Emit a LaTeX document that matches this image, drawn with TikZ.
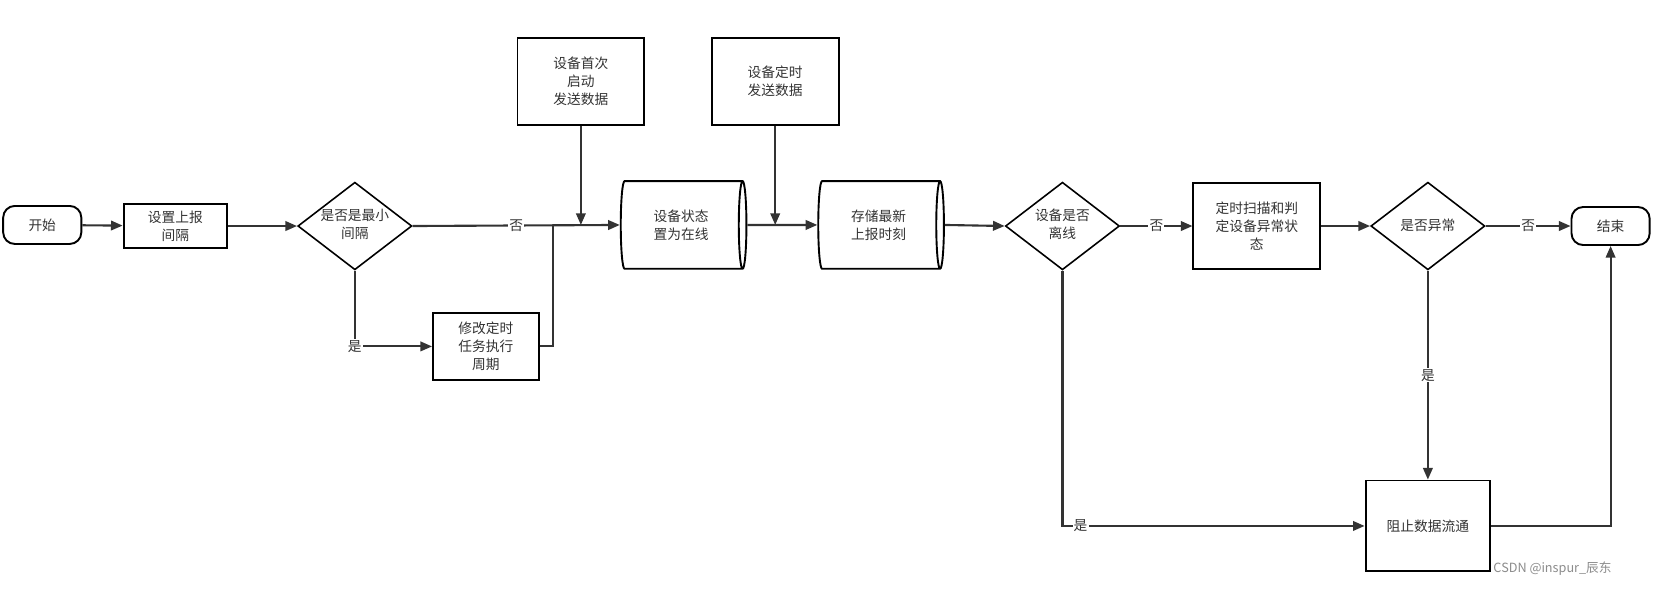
\documentclass[tikz,border=0pt]{standalone}
\usepackage{fontspec}
\setmainfont{Noto Sans CJK SC}
\usetikzlibrary{shapes.geometric,arrows.meta}
\begin{document}
\begin{tikzpicture}[x=1pt,y=-1pt,
  every node/.style={font=\fontsize{13}{17}\selectfont, text=black!80, align=center, inner sep=0pt},
  box/.style={draw, line width=1.8pt, minimum width=#1, rectangle},
  term/.style={draw, line width=1.8pt, rounded corners=11pt, minimum width=#1, minimum height=36},
  dia/.style={draw, line width=1.5pt, diamond, minimum width=108, minimum height=83, aspect=1.3},
  cyl/.style={draw, line width=1.8pt, cylinder, minimum width=83, minimum height=119, aspect=0.25},
  ar/.style={draw=black!80, line width=2pt, -{Triangle[length=11pt,width=9pt]}},
  ln/.style={draw=black!80, line width=2pt},
  lbl/.style={fill=white, inner sep=1pt}]
\useasboundingbox (0,0) rectangle (1568,558);
\fill[white] (0,0) rectangle (1568,558);
\node[term=74] (start) at (40,213) {开始};
\node[box=98, minimum height=42] (set) at (166,214) {设置上报\\间隔};
\node[dia] (d1) at (336,214) {};
\node at (336,212) {是否是最小\\间隔};
\node[box=100, minimum height=64] (mod) at (460,328) {修改定时\\任务执行\\周期};
\node[box=120, minimum height=82] (first) at (550,77) {设备首次\\启动\\发送数据};
\node[cyl] (c1) at (645,213) {设备状态\\置为在线};
\node[box=120, minimum height=82] (timer) at (734,77) {设备定时\\发送数据};
\node[cyl] (c2) at (832,213) {存储最新\\上报时刻};
\node[dia] (d2) at (1006,214) {};
\node at (1006,212) {设备是否\\离线};
\node[box=120, minimum height=82] (scan) at (1190,214) {定时扫描和判\\定设备异常状\\态};
\node[dia] (d3) at (1352,214) {};
\node at (1352,213) {是否异常};
\node[term=74] (end) at (1525,214) {结束};
\node[box=118, minimum height=86] (stop) at (1352,498) {阻止数据流通};
\node[font=\fontsize{12}{14}\selectfont, text=black!45] (wm) at (1470,538) {CSDN @inspur\_辰东};
\coordinate (j1) at (524,213);
\coordinate (j2) at (550,213);
\coordinate (j3) at (734,213);
\draw[ar] (start) -- (set);
\draw[ar] (set) -- (d1);
\draw[ar] (d1.east) -- node[lbl, pos=0.5] {否} (c1.west);
\draw[ar] (d1.south) |- node[lbl, pos=0.5] {是} (mod.west);
\draw[ln] (mod.east) -| (j1);
\draw[ar] (first.south) -- (j2);
\draw[ar] (c1.east) -- (c2.west);
\draw[ar] (timer.south) -- (j3);
\draw[ar] (c2.east) -- (d2.west);
\draw[ar] (d2.east) -- node[lbl] {否} (scan.west);
\draw[ar] (scan) -- (d3);
\draw[ar] (d3.east) -- node[lbl] {否} (end.west);
\draw[ar] (d3.south) -- node[lbl] {是} (stop.north);
\draw[ar] (d2.south) |- node[lbl, pos=0.53] {是} (stop.west);
\draw[ar] (stop.east) -| (end.south);
\end{tikzpicture}
\end{document}
